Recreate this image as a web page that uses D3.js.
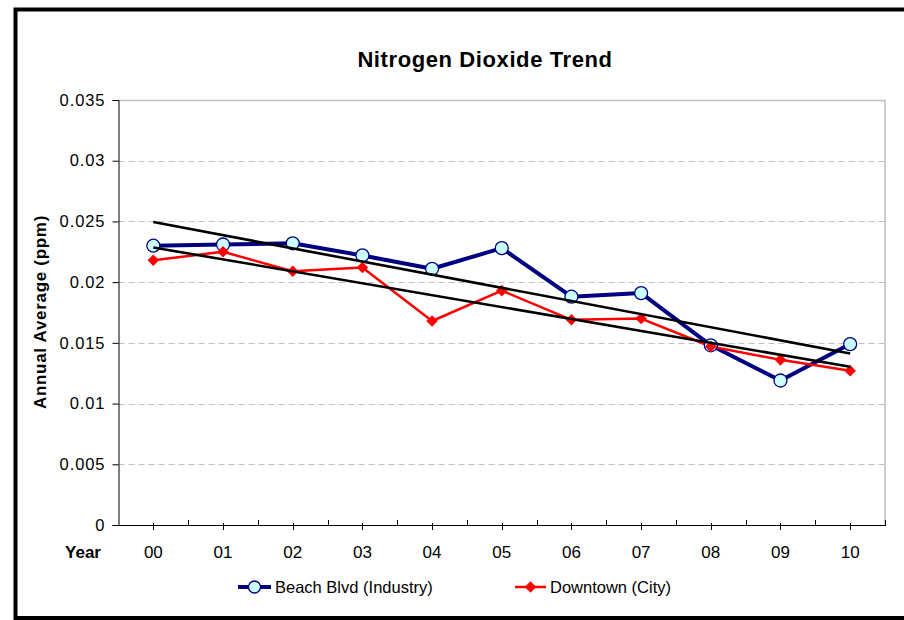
<!DOCTYPE html>
<html>
<head>
<meta charset="utf-8">
<script src="https://cdn.jsdelivr.net/npm/d3@7"></script>
<style>
body { margin: 0; background: #fff; }
svg text { font-family: Arial, "Liberation Sans", sans-serif; fill: #000; }
</style>
</head>
<body>
<div id="chart"></div>
<script>
// Data
var years = ["00", "01", "02", "03", "04", "05", "06", "07", "08", "09", "10"];
var beachBlvd = [0.0230, 0.0231, 0.0232, 0.0222, 0.0211, 0.0228, 0.0188, 0.0191, 0.0148, 0.0119, 0.0149];
var downtown = [0.0218, 0.0225, 0.0209, 0.0212, 0.0168, 0.0193, 0.0169, 0.0170, 0.0147, 0.0136, 0.0127];
var yTicks = [0, 0.005, 0.01, 0.015, 0.02, 0.025, 0.03, 0.035];

var width = 904, height = 620;
var plot = { left: 118.5, right: 885, top: 100, bottom: 525 };

var svg = d3.select("#chart").append("svg")
    .attr("width", width)
    .attr("height", height);

// outer frame
svg.append("rect")
    .attr("x", 15.5).attr("y", 9.5)
    .attr("width", 900).attr("height", 608.5)
    .attr("fill", "#fff")
    .attr("stroke", "#000")
    .attr("stroke-width", 4);

var x = d3.scaleBand().domain(years).range([plot.left, plot.right]);
var y = d3.scaleLinear().domain([0, 0.035]).range([plot.bottom, plot.top]);

function cx(d, i) { return x(years[i]) + x.bandwidth() / 2; }

// gridlines
svg.append("g").selectAll("line")
    .data(yTicks.filter(function(t) { return t > 0 && t < 0.035; }))
    .enter().append("line")
    .attr("x1", plot.left).attr("x2", plot.right)
    .attr("y1", function(d) { return Math.round(y(d)) + 0.5; })
    .attr("y2", function(d) { return Math.round(y(d)) + 0.5; })
    .attr("stroke", "#c0c0c0")
    .attr("stroke-dasharray", "6,4");

// plot area top / right border
svg.append("path")
    .attr("d", "M" + plot.left + "," + (plot.top + 0.5) + "H" + plot.right + "V" + plot.bottom)
    .attr("fill", "none")
    .attr("stroke", "#c0c0c0")
    .attr("stroke-width", 1.5);

// y axis
var yAxis = d3.axisLeft(y).tickValues(yTicks)
    .tickFormat(function(d) { return d === 0 ? "0" : String(+d.toFixed(3)); })
    .tickSize(6).tickPadding(8);
var gy = svg.append("g")
    .attr("transform", "translate(" + plot.left + ",0)")
    .call(yAxis);
gy.select(".domain").attr("stroke", "#000");
gy.selectAll(".tick line").attr("stroke", "#000");
gy.selectAll("text")
    .style("font-size", "16.5px")
    .style("letter-spacing", "0.9px")
    .attr("dx", "0.9px")
    .attr("fill", "#000");

// x axis
svg.append("line")
    .attr("x1", plot.left).attr("x2", plot.right)
    .attr("y1", plot.bottom + 0.5).attr("y2", plot.bottom + 0.5)
    .attr("stroke", "#000");

var boundaries = years.map(function(d) { return x(d); }).concat([plot.right]);
svg.append("g").selectAll("line")
    .data(boundaries.slice(1))
    .enter().append("line")
    .attr("x1", function(d) { return Math.round(d) + 0.5; })
    .attr("x2", function(d) { return Math.round(d) + 0.5; })
    .attr("y1", plot.bottom - 5).attr("y2", plot.bottom + 1)
    .attr("stroke", "#000");

svg.append("g").selectAll("line")
    .data(years)
    .enter().append("line")
    .attr("x1", function(d, i) { return Math.round(cx(d, i)) + 0.5; })
    .attr("x2", function(d, i) { return Math.round(cx(d, i)) + 0.5; })
    .attr("y1", plot.bottom - 2).attr("y2", plot.bottom + 5)
    .attr("stroke", "#000");

svg.append("g").selectAll("text")
    .data(years)
    .enter().append("text")
    .attr("x", cx)
    .attr("y", 558)
    .attr("text-anchor", "middle")
    .style("font-size", "17px")
    .text(function(d) { return d; });

svg.append("text")
    .attr("x", 83).attr("y", 558)
    .attr("text-anchor", "middle")
    .style("font-size", "17px")
    .style("font-weight", "bold")
    .text("Year");

// titles
svg.append("text")
    .attr("x", 485).attr("y", 67)
    .attr("text-anchor", "middle")
    .style("font-size", "22px")
    .style("letter-spacing", "0.6px")
    .style("font-weight", "bold")
    .text("Nitrogen Dioxide Trend");

svg.append("text")
    .attr("transform", "translate(46,312) rotate(-90)")
    .attr("text-anchor", "middle")
    .style("font-size", "17px")
    .style("letter-spacing", "0.7px")
    .style("font-weight", "bold")
    .text("Annual Average (ppm)");

// trend lines (least squares on each series)
function trend(vals) {
    var n = vals.length, mx = (n - 1) / 2, my = d3.mean(vals);
    var sxy = 0, sxx = 0;
    vals.forEach(function(v, i) { sxy += (i - mx) * (v - my); sxx += (i - mx) * (i - mx); });
    var b = sxy / sxx, a = my - b * mx;
    return vals.map(function(v, i) { return a + b * i; });
}

var line = d3.line()
    .x(function(d, i) { return cx(d, i); })
    .y(function(d) { return y(d); });

// series
svg.append("path")
    .datum(beachBlvd)
    .attr("d", line)
    .attr("fill", "none")
    .attr("stroke", "#000080")
    .attr("stroke-width", 4)
    .attr("stroke-linejoin", "round");

svg.append("path")
    .datum(downtown)
    .attr("d", line)
    .attr("fill", "none")
    .attr("stroke", "#ff0000")
    .attr("stroke-width", 2.5)
    .attr("stroke-linejoin", "round");

var diamond = d3.symbol().type(d3.symbolDiamond2).size(85);

svg.append("g").selectAll("circle")
    .data(beachBlvd)
    .enter().append("circle")
    .attr("cx", cx)
    .attr("cy", function(d) { return y(d); })
    .attr("r", 6.5)
    .attr("fill", "#ccffff")
    .attr("stroke", "#000080")
    .attr("stroke-width", 1.3);

svg.append("g").selectAll("path")
    .data(downtown)
    .enter().append("path")
    .attr("d", diamond)
    .attr("transform", function(d, i) { return "translate(" + cx(d, i) + "," + y(d) + ")"; })
    .attr("fill", "#ff0000");

[beachBlvd, downtown].forEach(function(s) {
    var t = trend(s);
    svg.append("path")
        .datum([t[0], t[t.length - 1]])
        .attr("d", d3.line()
            .x(function(d, i) { return i === 0 ? cx(null, 0) : cx(null, years.length - 1); })
            .y(function(d) { return y(d); }))
        .attr("fill", "none")
        .attr("stroke", "#000")
        .attr("stroke-width", 2.6);
});

// legend
var legend = svg.append("g");
legend.append("line")
    .attr("x1", 238).attr("x2", 271).attr("y1", 587).attr("y2", 587)
    .attr("stroke", "#000080").attr("stroke-width", 4);
legend.append("circle")
    .attr("cx", 254.5).attr("cy", 587).attr("r", 6)
    .attr("fill", "#ccffff").attr("stroke", "#000080").attr("stroke-width", 1.3);
legend.append("text")
    .attr("x", 275).attr("y", 593)
    .style("font-size", "16.5px")
    .text("Beach Blvd (Industry)");

legend.append("line")
    .attr("x1", 515).attr("x2", 546).attr("y1", 587).attr("y2", 587)
    .attr("stroke", "#ff0000").attr("stroke-width", 2.5);
legend.append("path")
    .attr("d", diamond)
    .attr("transform", "translate(530.5,587)")
    .attr("fill", "#ff0000");
legend.append("text")
    .attr("x", 550).attr("y", 593)
    .style("font-size", "16.5px")
    .text("Downtown (City)");
</script>
</body>
</html>
